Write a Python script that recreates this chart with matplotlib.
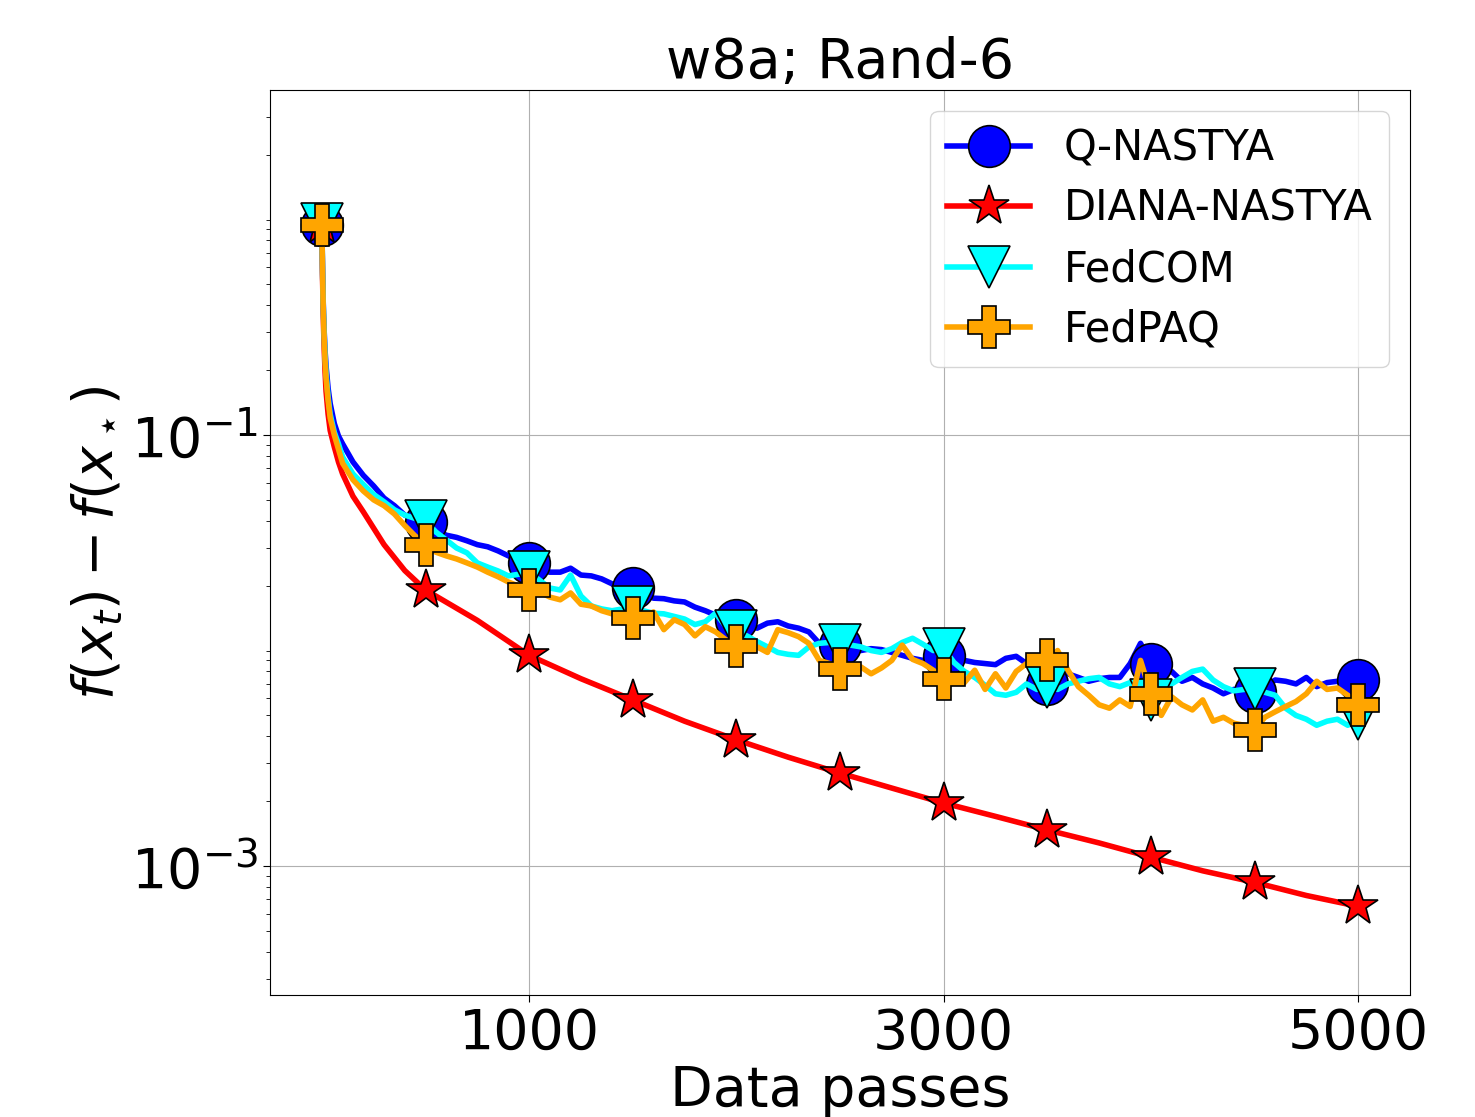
import numpy as np
import matplotlib
matplotlib.use('Agg')
import matplotlib.pyplot as plt
from matplotlib.ticker import LogLocator, NullFormatter

# sampling grid (data passes) for the noisy runs
passes = [0, 3, 6, 10, 15, 20, 30, 40, 60, 80, 100, 150, 200, 250, 300, 350, 400, 450] + list(range(500, 5001, 50))

q_nastya = [0.94, 0.6, 0.43, 0.32, 0.25, 0.21, 0.165, 0.14, 0.113, 0.099, 0.091, 0.075, 0.065, 0.058, 0.051, 0.047, 0.0425, 0.0405,
            0.0395, 0.0362, 0.0343, 0.0335, 0.0323, 0.031, 0.0303, 0.029, 0.0275, 0.0263,
            0.0255, 0.0236, 0.0231, 0.0231, 0.0241, 0.0224, 0.0222, 0.0215, 0.0204, 0.0199,
            0.0195, 0.0183, 0.0175, 0.0174, 0.017, 0.0168, 0.0159, 0.0153, 0.0146, 0.0143,
            0.0139, 0.0132, 0.0127, 0.0134, 0.0136, 0.013, 0.0127, 0.0122, 0.0108, 0.0109,
            0.0106, 0.0104, 0.01, 0.0102, 0.0101, 0.0098, 0.0095, 0.0092, 0.009, 0.0094,
            0.0094, 0.009, 0.009, 0.0088, 0.0087, 0.0086, 0.0092, 0.0094, 0.0087, 0.0084,
            0.0070, 0.0078, 0.0078, 0.0075, 0.0072, 0.0074, 0.0075, 0.0075, 0.0087, 0.0108,
            0.0087, 0.0084, 0.008, 0.0072, 0.0075, 0.007, 0.0067, 0.0063, 0.0066, 0.0064,
            0.0064, 0.0068, 0.0073, 0.0072, 0.007, 0.0075, 0.0068, 0.0071, 0.0072, 0.0072,
            0.0073]

fedcom = [0.95, 0.6, 0.42, 0.31, 0.235, 0.195, 0.15, 0.125, 0.103, 0.091, 0.079, 0.066, 0.059, 0.053, 0.049, 0.045, 0.0425, 0.041,
          0.040, 0.0355, 0.0326, 0.0299, 0.0284, 0.0255, 0.0244, 0.0234, 0.0222, 0.0226,
          0.0231, 0.0212, 0.0195, 0.0191, 0.0224, 0.0179, 0.0161, 0.0156, 0.0153, 0.0156,
          0.0159, 0.0153, 0.0149, 0.0148, 0.0144, 0.014, 0.0132, 0.0136, 0.0149, 0.0129,
          0.0123, 0.0117, 0.011, 0.0104, 0.0098, 0.0096, 0.0095, 0.0104, 0.0108, 0.0109,
          0.0106, 0.0106, 0.0104, 0.01, 0.0098, 0.0102, 0.0109, 0.0114, 0.0107, 0.01,
          0.0102, 0.0088, 0.008, 0.0075, 0.0069, 0.0063, 0.0062, 0.0064, 0.007, 0.0066,
          0.0068, 0.0066, 0.007, 0.0072, 0.0074, 0.0075, 0.007, 0.0068, 0.0071, 0.0066,
          0.0059, 0.0066, 0.007, 0.0075, 0.008, 0.0082, 0.0073, 0.0068, 0.0065, 0.0066,
          0.0066, 0.0064, 0.0062, 0.0054, 0.005, 0.0048, 0.0045, 0.0047, 0.0048, 0.0045,
          0.0048]

fedpaq = [0.94, 0.58, 0.41, 0.3, 0.225, 0.185, 0.145, 0.12, 0.1, 0.086, 0.074, 0.062, 0.055, 0.05, 0.047, 0.043, 0.038, 0.034,
          0.0309, 0.0286, 0.0275, 0.0266, 0.0255, 0.0244, 0.0231, 0.022, 0.0208, 0.0199,
          0.019, 0.0187, 0.0177, 0.0172, 0.0185, 0.0164, 0.0161, 0.0153, 0.0148, 0.0144,
          0.0142, 0.0143, 0.0151, 0.0125, 0.0139, 0.0132, 0.0117, 0.0129, 0.0122, 0.0112,
          0.0105, 0.0102, 0.0104, 0.0098, 0.0125, 0.0121, 0.0116, 0.0108, 0.009, 0.0087,
          0.0082, 0.0085, 0.0084, 0.0078, 0.0083, 0.009, 0.0106, 0.0091, 0.0087, 0.0081,
          0.0074, 0.0076, 0.0071, 0.0081, 0.0066, 0.0078, 0.0067, 0.008, 0.0087, 0.0086,
          0.009, 0.01, 0.0081, 0.0068, 0.0062, 0.0056, 0.0054, 0.0059, 0.0055, 0.009,
          0.0063, 0.005, 0.0061, 0.0056, 0.0053, 0.0059, 0.0047, 0.0049, 0.0046, 0.0045,
          0.0043, 0.0049, 0.0052, 0.0055, 0.0058, 0.0063, 0.0072, 0.0066, 0.0067, 0.0062,
          0.0056]

# DIANA-NASTYA is smooth, coarser grid is enough
diana_passes = [0, 3, 6, 10, 15, 20, 30, 40, 60, 80, 100, 150, 200, 300, 400, 500, 750, 1000, 1250, 1500, 1750,
                2000, 2250, 2500, 2750, 3000, 3250, 3500, 3750, 4000, 4250, 4500, 4750, 5000]
diana_nastya = [0.94, 0.55, 0.38, 0.27, 0.2, 0.16, 0.125, 0.105, 0.088, 0.075, 0.066, 0.052, 0.044, 0.031, 0.0235,
                0.0191, 0.0138, 0.0095, 0.0074, 0.0059, 0.0047, 0.00385, 0.0032, 0.0027, 0.0023, 0.00196, 0.0017,
                0.00147, 0.00128, 0.0011, 0.00095, 0.00084, 0.00073, 0.00065]


def every500(xs):
    return [i for i, v in enumerate(xs) if v % 500 == 0]


fig = plt.figure(figsize=(14.75, 11.17), dpi=100)
ax = fig.add_axes([0.1831, 0.1092, 0.9559 - 0.1831, 0.9194 - 0.1092])

style = dict(lw=4, markersize=30, markeredgecolor='black', markeredgewidth=1.2)
ax.plot(passes, q_nastya, color='blue', marker='o', markevery=every500(passes), label='Q-NASTYA', **style)
ax.plot(diana_passes, diana_nastya, color='red', marker='*', markevery=every500(diana_passes), label='DIANA-NASTYA', **style)
ax.plot(passes, fedcom, color='cyan', marker='v', markevery=every500(passes), label='FedCOM', **style)
ax.plot(passes, fedpaq, color='orange', marker='P', markevery=every500(passes), label='FedPAQ', **style)

ax.set_yscale('log')
ax.set_xlim(-250, 5250)
ax.set_ylim(2.52e-4, 3.99)
ax.set_xticks([1000, 3000, 5000])
ax.set_yticks([1e-3, 1e-1])
ax.yaxis.set_minor_locator(LogLocator(base=10, subs=np.arange(1, 10), numticks=50))
ax.yaxis.set_minor_formatter(NullFormatter())
ax.tick_params(axis='both', which='major', labelsize=40, length=5)
ax.tick_params(axis='y', which='minor', length=3)
ax.grid(True)

ax.set_title('w8a; Rand-6', fontsize=40)
ax.set_xlabel('Data passes', fontsize=40, labelpad=2)
ax.set_ylabel(r'$f(x_t) - f(x_\star)$', fontsize=40)
ax.legend(loc='upper right', fontsize=30, labelspacing=0.44)

fig.savefig('out.png', dpi=100)
